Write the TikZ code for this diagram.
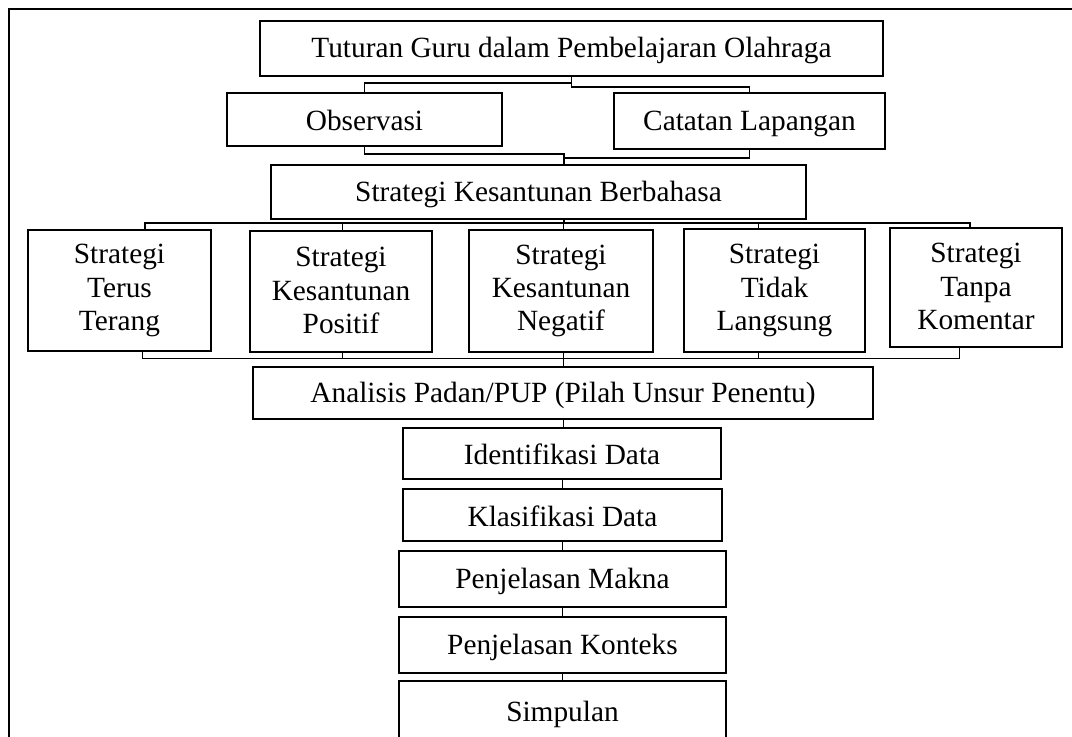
\documentclass[tikz,border=0pt]{standalone}
\usepackage{fontspec}
\setmainfont{Liberation Serif}
\begin{document}
\begin{tikzpicture}[x=0.75pt, y=-0.75pt,
  box/.style={draw, line width=1.5pt, inner sep=0pt, align=center, font=\fontsize{22}{25}\selectfont,
    execute at begin node=\rule{0pt}{18.5pt}, execute at end node=\rule[-1.5pt]{0pt}{1.5pt}},
  link/.style={line width=1.1pt},
  thinlink/.style={line width=0.7pt}]

\useasboundingbox (0,0) rectangle (1072,737);
\draw[line width=1.5pt] (9,737) -- (9,9) -- (1072,9);

\node[box, minimum width=467pt, minimum height=41pt] (tutur) at (571.5,48.5) {Tuturan Guru dalam Pembelajaran Olahraga};
\node[box, minimum width=206pt, minimum height=40pt] (obs) at (364.5,119.5) {Observasi};
\node[box, minimum width=203pt, minimum height=42pt] (cat) at (749.5,121) {Catatan Lapangan};
\node[box, minimum width=401pt, minimum height=40.5pt] (skb) at (538.5,192) {Strategi Kesantunan Berbahasa};

\node[box, minimum width=137pt, minimum height=91pt] (b1) at (119.5,290.5) {Strategi\\Terus\\Terang};
\node[box, minimum width=136.5pt, minimum height=91pt] (b2) at (341,291.5) {Strategi\\Kesantunan\\Positif};
\node[box, minimum width=138pt, minimum height=91.5pt] (b3) at (561,291) {Strategi\\Kesantunan\\Negatif};
\node[box, minimum width=136pt, minimum height=92pt] (b4) at (774.5,290.5) {Strategi\\Tidak\\Langsung};
\node[box, minimum width=129pt, minimum height=89pt] (b5) at (976,287.5) {Strategi\\Tanpa\\Komentar};

\node[box, minimum width=465pt, minimum height=39pt] (ana) at (563,393) {Analisis Padan/PUP (Pilah Unsur Penentu)};
\node[box, minimum width=238.5pt, minimum height=38pt] (idf) at (562,453.5) {Identifikasi Data};
\node[box, minimum width=239pt, minimum height=39pt] (kls) at (562.5,515) {Klasifikasi Data};
\node[box, minimum width=245pt, minimum height=42pt] (mkn) at (562.5,579) {Penjelasan Makna};
\node[box, minimum width=245pt, minimum height=42pt] (ktk) at (562.5,645) {Penjelasan Konteks};
\node[box, minimum width=245pt, minimum height=46.5pt] (smp) at (562.5,712) {Simpulan};

\draw[link] (tutur.south) -- ++(0,6) -| (obs.north);
\draw[link] (tutur.south) -- ++(0,10) -| (cat.north);
\draw[link] (obs.south) -- ++(0,7) -| ([xshift=19pt]skb.north);
\draw[link] (cat.south) -- ++(0,8) -| ([xshift=19pt]skb.north);

\foreach \n/\dx in {b1/19, b2/1, b3/2, b4/-12, b5/-4.5}
  \draw[link] ([xshift=19pt]skb.south) -- ++(0,3) -| ([xshift=\dx pt]\n.north);

\foreach \n/\dx in {b1/17, b2/1, b3/2, b4/-12, b5/-12.75}
  \draw[thinlink] ([xshift=\dx pt]\n.south) |- ([yshift=6pt]ana.north) -- (ana.north);

\foreach \a/\b in {ana/idf, idf/kls, kls/mkn, mkn/ktk, ktk/smp}
  \draw[thinlink] (\a.south) -- (\a.south |- \b.north);
\end{tikzpicture}
\end{document}
